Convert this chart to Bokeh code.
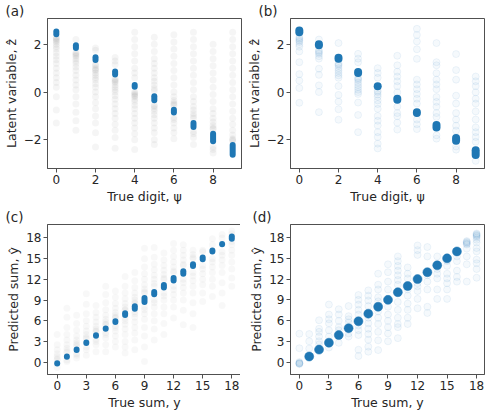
from bokeh.plotting import figure
from bokeh.layouts import gridplot
from bokeh.models import FixedTicker, Range1d
from bokeh.embed import file_html
from bokeh.resources import INLINE

BLUE = "#1f77b4"
FONT = "DejaVu Sans"

digits = list(range(10))
sums = list(range(19))

# ---- panel (a): latent variable vs true digit (grey spread, blue core)
a_core_lo = [2.30, 1.72, 1.22, 0.62, 0.10, -0.46, -0.98, -1.58, -2.18, -2.74]
a_core_hi = [2.66, 2.08, 1.58, 0.98, 0.42, -0.06, -0.62, -1.18, -1.62, -2.10]
a_faint = [
    [2.3, 2.25, 2.2, 2.15, 2.1, 2.0, 1.9, 1.8, 1.65, 1.5, 1.35, 1.2, 1.0, 0.8, 0.6, 0.4, 0.2, -0.2, -0.75, -1.3],
    [2.2, 1.65, 1.6, 1.55, 1.5, 1.4, 1.3, 1.2, 1.05, 0.9, 0.7, 0.5, 0.3, 0.1, -0.2, -0.5, -0.85, -1.2, -1.6],
    [1.85, 1.75, 1.15, 1.1, 1.0, 0.95, 0.9, 0.8, 0.7, 0.6, 0.5, 0.35, 0.2, 0.0, -0.2, -0.45, -0.7, -1.0, -1.3, -1.7, -2.3],
    [1.45, 1.3, 1.15, 0.55, 0.5, 0.45, 0.4, 0.3, 0.2, 0.1, 0.0, -0.15, -0.3, -0.5, -0.7, -0.9, -1.1, -1.35, -1.6, -1.9, -2.35],
    [2.5, 2.2, 1.9, 1.6, 1.3, 1.0, 0.8, 0.6, 0.0, -0.05, -0.1, -0.15, -0.2, -0.3, -0.4, -0.55, -0.7, -0.9, -1.1, -1.3, -1.5, -1.75, -2.0, -2.4],
    [2.3, 2.0, 1.7, 1.4, 1.2, 1.0, 0.8, 0.6, 0.45, 0.3, 0.15, 0.05, -0.55, -0.6, -0.7, -0.8, -0.95, -1.1, -1.3, -1.5, -1.7, -2.0, -2.2],
    [2.4, 2.1, 1.8, 1.5, 1.2, 0.9, 0.6, 0.3, 0.0, -0.2, -0.35, -0.45, -0.5, -0.55, -1.05, -1.15, -1.3, -1.5, -1.7, -1.95],
    [2.5, 2.2, 1.9, 1.6, 1.3, 1.0, 0.7, 0.4, 0.1, -0.2, -0.4, -0.6, -0.75, -0.9, -1.0, -1.1, -1.65, -1.75, -1.9, -2.2],
    [2.0, 1.7, 1.4, 1.1, 0.8, 0.5, 0.2, -0.1, -0.4, -0.7, -0.9, -1.1, -1.25, -1.4, -1.5, -1.55, -2.3, -2.4, -2.55],
    [2.5, 2.2, 1.9, 1.6, 1.3, 1.0, 0.7, 0.4, 0.1, -0.2, -0.5, -0.8, -1.1, -1.35, -1.6, -1.8, -1.95, -2.0, -2.05],
]

# ---- panel (b): latent variable vs true digit (all blue)
b_core_lo = [2.34, 1.80, 1.24, 0.64, 0.08, -0.48, -1.04, -1.64, -2.20, -2.80]
b_core_hi = [2.74, 2.16, 1.60, 1.00, 0.40, -0.12, -0.68, -1.22, -1.76, -2.28]
b_faint = [
    [2.3, 2.25, 2.2, 2.15, 2.1, 2.0, 1.9, 1.7, 1.25, 0.75, 0.48, 0.17, -0.45],
    [2.2, 1.75, 1.7, 1.65, 1.6, 1.5, 1.4, 0.98, 0.72, 0.28, 0.0, -0.84],
    [2.05, 1.2, 1.15, 1.1, 1.0, 0.9, 0.8, 0.7, 0.6, 0.25, -0.12, -0.4, -0.72, -1.16],
    [1.6, 1.4, 1.25, 0.6, 0.55, 0.5, 0.4, 0.3, 0.2, 0.1, 0.0, -0.08, -0.44, -0.96, -1.68],
    [1.0, 0.8, 0.6, 0.05, 0.0, -0.1, -0.2, -0.35, -0.5, -0.7, -1.0, -1.2, -1.4, -1.68, -1.88, -2.16, -2.36],
    [1.52, 1.12, 0.85, 0.65, 0.45, 0.25, -0.01, -0.61, -0.88, -1.01, -1.28, -1.57],
    [2.65, 2.39, 2.12, 1.79, 1.39, 0.52, 0.32, 0.12, -0.08, -0.28, -0.48, -1.15, -1.35, -1.55],
    [2.05, 1.25, 1.12, 0.79, 0.52, 0.32, 0.12, -0.21, -0.41, -0.61, -0.88, -1.04, -1.81, -1.95],
    [1.59, 0.92, 0.52, -0.15, -0.48, -0.88, -1.15, -1.41, -1.61, -2.28, -2.41],
    [0.65, 0.45, 0.25, -0.01, -0.28, -0.48, -0.81, -1.15, -1.48, -1.68, -1.88, -2.08, -2.88],
]

# ---- panel (c): predicted vs true sum (grey spread, blue core)
c_core_lo = [-0.6, 0.4, 1.35, 2.35, 3.4, 4.4, 5.4, 6.4, 7.3, 8.3, 9.4, 10.4, 11.4, 12.4, 13.5, 14.5, 15.6, 16.7, 17.8]
c_core_hi = [0.2, 1.2, 2.25, 3.25, 4.3, 5.3, 6.35, 7.5, 8.5, 9.7, 10.6, 11.6, 12.6, 13.6, 14.6, 15.6, 16.6, 17.5, 18.3]
c_faint = [
    [4.0, 2.5, 1.8, 1.2, 0.8, 0.5, 0.3, -0.8],
    [7.8, 6.5, 5.0, 4.0, 3.2, 2.5, 2.0, 1.6, 1.4, 0.3, 0.1],
    [6.8, 5.6, 4.6, 3.8, 3.2, 2.8, 2.5, 2.3, 1.2, 1.0, 0.6],
    [9.9, 8.4, 7.0, 6.0, 5.2, 4.5, 4.0, 3.6, 3.4, 2.2, 1.8, 1.0],
    [8.2, 7.2, 6.5, 5.8, 5.2, 4.8, 4.5, 4.4, 3.3, 3.0, 2.5, 1.5],
    [11.0, 9.8, 8.6, 7.6, 6.8, 6.2, 5.8, 5.5, 5.4, 4.3, 4.0, 3.5, 2.5, 1.5],
    [10.3, 9.4, 8.5, 7.8, 7.2, 6.8, 6.5, 6.4, 5.3, 5.0, 4.5, 3.8, 3.0, 2.2],
    [12.4, 11.0, 10.0, 9.2, 8.5, 8.0, 7.6, 7.5, 6.4, 6.0, 5.5, 4.8, 4.0, 3.0, 2.2, 1.3],
    [13.0, 11.8, 10.8, 10.0, 9.4, 9.0, 8.6, 8.5, 7.3, 7.0, 6.5, 5.8, 5.0, 4.2, 3.2, 1.8],
    [16.5, 15.0, 13.8, 12.8, 12.0, 11.2, 10.6, 10.2, 10.0, 8.0, 7.6, 7.0, 6.2, 5.0, 3.8, 2.2, 0.1],
    [16.6, 15.2, 14.2, 13.4, 12.6, 12.0, 11.4, 11.0, 9.0, 8.6, 8.0, 7.0, 6.0, 4.8, 3.2],
    [15.8, 14.8, 14.0, 13.3, 12.7, 12.2, 12.0, 10.0, 9.6, 9.0, 8.0, 7.0, 5.6, 4.0],
    [17.2, 16.2, 15.3, 14.5, 13.8, 13.2, 13.0, 11.0, 10.5, 9.8, 9.0, 8.0, 6.4],
    [17.0, 16.2, 15.5, 14.8, 14.2, 14.0, 12.0, 11.5, 10.8, 10.0, 9.0, 7.5, 5.4],
    [16.2, 15.6, 15.2, 15.0, 13.0, 12.5, 11.8, 11.0, 10.0, 8.6, 7.0, 5.0],
    [16.2, 16.0, 14.0, 13.5, 12.8, 12.0, 11.2, 10.0, 8.8],
    [17.9, 17.0, 15.0, 14.5, 13.8, 13.0, 12.0, 11.0, 9.5],
    [18.5, 18.0, 16.0, 15.5, 14.8, 14.0, 13.0, 11.5, 10.0, 8.2],
    [19.0, 18.6, 17.5, 17.0, 16.2, 15.5, 14.5, 13.5, 12.2, 11.0],
]

# ---- panel (d): predicted vs true sum (all blue)
d_core_x = [1, 2, 3, 4, 5, 6, 7, 8, 9, 10, 11, 12, 13, 14, 15, 16]
d_core_y = [0.8, 1.8, 2.8, 3.9, 4.9, 5.9, 7.0, 8.0, 9.0, 10.1, 11.0, 12.0, 13.0, 14.0, 15.0, 16.0]
d_faint = [
    [-0.2, -0.2, -0.2, -0.1, -0.3, 0.0, 2.0, 4.1],
    [4.05, 3.0, 1.96],
    [6.05, 4.82, 4.37, 3.69, 3.0, 2.55],
    [8.32, 6.87, 6.19, 5.6, 4.6, 3.69, 2.1],
    [7.64, 6.87, 5.96, 5.05, 4.6, 2.78],
    [8.1, 6.64, 6.19, 5.73, 4.14, 3.69],
    [9.69, 9.0, 8.32, 7.55, 6.87, 5.28, 4.6, 3.91, 1.78, 0.87],
    [10.37, 9.6, 8.91, 8.1, 6.41, 5.6, 4.82, 4.05, 3.23, 2.23, 1.5],
    [12.78, 11.19, 10.5, 9.37, 8.78, 7.32, 6.41, 5.5, 4.37, 3.14, 1.73],
    [14.14, 13.0, 11.64, 10.5, 8.0, 6.87, 5.96, 5.05, 4.14, 3.0],
    [15.28, 14.6, 13.91, 13.23, 12.55, 11.87, 11.19, 8.69, 7.55, 6.41, 5.5, 5.05, 3.46],
    [13.69, 12.78, 12.1, 10.5, 9.6, 8.46, 7.55, 6.41, 5.5],
    [16.87, 16.19, 15.5, 11.41, 10.96, 10.28, 9.14, 7.78],
    [16.64, 15.28, 12.55, 11.64, 10.5, 8.0, 7.1],
    [15.28, 13.46, 12.78, 12.1, 10.5, 9.14],
    [14.6, 13.91, 12.78, 12.1, 11.41, 10.5, 9.14],
    [15.28, 14.6, 13.23, 12.32, 11.64],
    [17.0, 17.1, 17.2, 17.3, 17.4, 17.5, 16.41, 15.28, 14.14, 11.64],
    [18.0, 18.2, 18.3, 18.4, 18.5, 18.6, 17.7, 17.3, 16.5, 16.0, 14.82, 14.3, 13.46, 12.2],
]

panel_letters = ["(a)", "(b)", "(c)", "(d)"]
xlabels = ["True digit, \u03c8", "True digit, \u03c8", "True sum, y", "True sum, y"]
ylabels = ["Latent variable, \u1e91", "Latent variable, \u1e91", "Predicted sum, \u0177", "Predicted sum, \u0177"]
digit_ticks = [0, 2, 4, 6, 8]
latent_ticks = [-2, 0, 2]
sum_ticks = [0, 3, 6, 9, 12, 15, 18]


def flatten(groups):
    xs, ys = [], []
    for i, vals in enumerate(groups):
        for v in vals:
            xs.append(i)
            ys.append(v)
    return xs, ys


FW, FH = 194, 150


def make_fig(left, right, bottom, xr, yr, xt, yt, xl, yl, letter, toff):
    p = figure(frame_width=FW, frame_height=FH, output_backend="svg", toolbar_location=None,
               x_range=Range1d(*xr), y_range=Range1d(*yr),
               min_border_left=left, min_border_right=right,
               min_border_top=0, min_border_bottom=bottom,
               title=letter)
    p.title.align = "left"
    p.title.offset = toff
    p.title.standoff = 0
    p.title.text_font = FONT
    p.title.text_font_size = "13.5px"
    p.title.text_font_style = "normal"
    p.title.text_color = "#262626"
    p.xgrid.visible = False
    p.ygrid.visible = False
    p.outline_line_color = "#505050"
    p.outline_line_width = 1
    p.outline_line_alpha = 1
    p.background_fill_color = "white"
    p.border_fill_color = "white"
    p.xaxis.ticker = FixedTicker(ticks=xt)
    p.yaxis.ticker = FixedTicker(ticks=yt)
    p.yaxis.major_label_overrides = {t: ("\u2212" + str(-t)) for t in yt if t < 0}
    for ax in (p.xaxis, p.yaxis):
        ax.axis_line_color = "#505050"
        ax.major_tick_line_color = "#505050"
        ax.major_tick_out = 4
        ax.major_tick_in = 0
        ax.minor_tick_line_color = None
        ax.major_label_text_font = FONT
        ax.major_label_text_font_size = "12px"
        ax.major_label_text_color = "#262626"
        ax.major_label_standoff = 2
        ax.axis_label_text_font = FONT
        ax.axis_label_text_font_size = "12.5px"
        ax.axis_label_text_font_style = "normal"
        ax.axis_label_text_color = "#262626"
        ax.axis_label_standoff = 2
    p.xaxis.axis_label = xl
    p.yaxis.axis_label = yl
    return p


pa = make_fig(42, 2, 37, (-0.45, 9.45), (-3.2, 3.08), digit_ticks, latent_ticks,
              xlabels[0], ylabels[0], panel_letters[0], -42)
pb = make_fig(40, 4, 37, (-0.45, 9.45), (-3.2, 3.08), digit_ticks, latent_ticks,
              xlabels[1], ylabels[1], panel_letters[1], -32)
pc = make_fig(42, 2, 37, (-1.0, 19.0), (-1.8, 19.95), sum_ticks, sum_ticks,
              xlabels[2], ylabels[2], panel_letters[2], -42)
pd = make_fig(40, 4, 37, (-0.9, 18.8), (-1.8, 19.9), sum_ticks, sum_ticks,
              xlabels[3], ylabels[3], panel_letters[3], -38)


def grey_panel(p, faint, lo, hi, cats, cap, alpha):
    xs, ys = flatten(faint)
    p.scatter(xs, ys, size=7, fill_color="black", fill_alpha=alpha, line_color=None)
    y0 = [v + cap for v in lo]
    y1 = [v - cap for v in hi]
    p.segment(x0=cats, y0=y0, x1=cats, y1=y1, line_color=BLUE, line_width=6, line_cap="round")


def blue_panel(p, faint):
    xs, ys = flatten(faint)
    p.scatter(xs, ys, size=7, fill_color=BLUE, fill_alpha=0.045, line_color=BLUE, line_alpha=0.07)


grey_panel(pa, a_faint, a_core_lo, a_core_hi, digits, 0.12, 0.04)
grey_panel(pc, c_faint, c_core_lo, c_core_hi, sums, 0.42, 0.028)

blue_panel(pb, b_faint)
pb.segment(x0=digits, y0=[v + 0.16 for v in b_core_lo], x1=digits, y1=[v - 0.16 for v in b_core_hi],
           line_color=BLUE, line_width=8, line_cap="round")

blue_panel(pd, d_faint)
pd.scatter(d_core_x, d_core_y, size=9, fill_color=BLUE, line_color=BLUE, line_width=0.5)

grid = gridplot([[pa, pb], [pc, pd]], toolbar_location=None)

open("out.html", "w").write(file_html(grid, INLINE))
